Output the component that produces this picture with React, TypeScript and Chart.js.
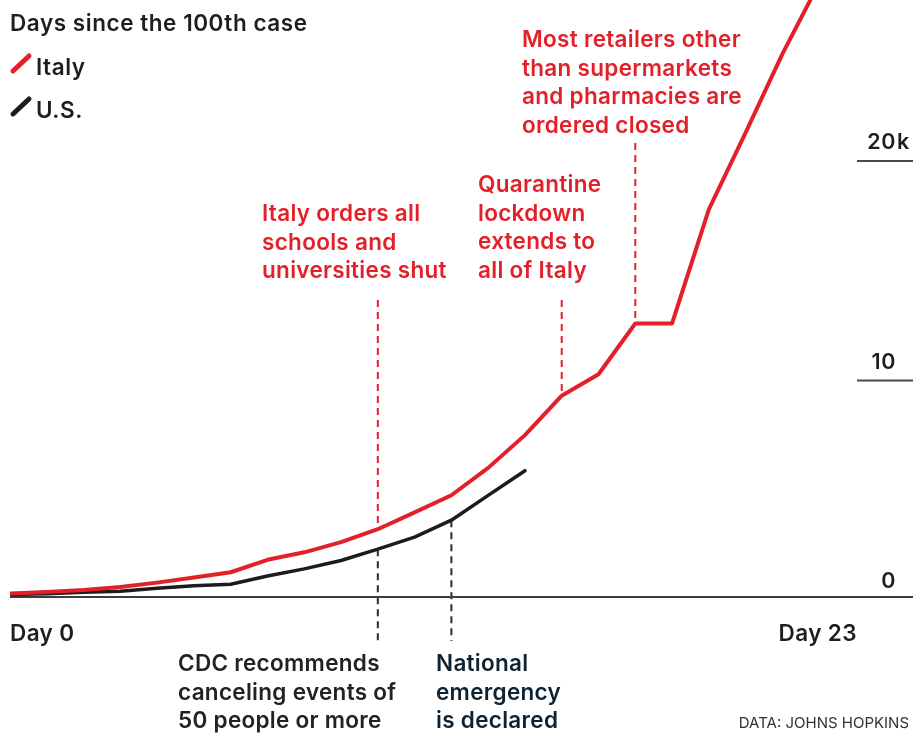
import { useEffect, useRef } from "react";
import { Chart, registerables } from "chart.js";

Chart.register(...registerables);

// Days since each country's 100th confirmed case
const italyDays = [0, 1, 2, 3, 4, 5, 6, 7, 8, 9, 10, 11, 12, 13, 14, 15, 16, 17, 18, 19, 20, 21, 22];
const italyCases = [
  155, 229, 322, 453, 655, 888, 1128, 1694, 2036, 2502, 3089, 3858, 4636, 5883, 7375, 9172, 10149,
  12462, 12462, 17660, 21157, 24747, 27980,
];

const usDays = [0, 1, 2, 3, 4, 5, 6, 7, 8, 9, 10, 11, 12, 13, 14];
const usCases = [118, 149, 217, 262, 402, 518, 583, 959, 1281, 1663, 2179, 2727, 3499, 4632, 5754];

// Right-hand value ticks (number part right-aligned, unit hangs to the right)
const yTickValues = [0, 10000, 20000];
const yTickNumbers = ["0", "10", "20"];
const yTickUnits = ["", "", "k"];

// Day markers under the baseline
const xLabelDays = [0, 23];
const xLabelTexts = ["Day 0", "Day 23"];

// Events in Italy (noted above the red line)
const italyEventDays = [10, 15, 17];
const italyEventTexts = [
  ["Italy orders all", "schools and", "universities shut"],
  ["Quarantine", "lockdown", "extends to", "all of Italy"],
  ["Most retailers other", "than supermarkets", "and pharmacies are", "ordered closed"],
];

// Events in the U.S. (noted below the baseline)
const usEventDays = [10, 12];
const usEventTexts = [
  ["CDC recommends", "canceling events of", "50 people or more"],
  ["National", "emergency", "is declared"],
];

const RED = "#e3202a";
const BLACK = "#1c1c1c";
const FONT = "Inter, 'Liberation Sans', sans-serif";

// Placement of the event notes
const italyNoteLayout = [
  { x: 262, baseline: 221, dashTop: 300 },
  { x: 478, baseline: 192, dashTop: 300 },
  { x: 522, baseline: 47, dashTop: 143 },
];
const usNoteLayout = [
  { x: 178, baseline: 671, dashBottom: 641, color: "#222222" },
  { x: 436, baseline: 671, dashBottom: 641, color: "#0e2232" },
];
const NOTE_LINE_HEIGHT = 28.6;

const overlay = {
  id: "overlay",
  beforeDatasetsDraw(chart: any) {
    const { ctx, scales } = chart;
    const xs = scales.x;
    const ys = scales.y;
    const area = chart.chartArea;
    ctx.save();
    ctx.lineWidth = 2;
    ctx.setLineDash([7, 5]);
    // Italy event markers: from the note down to the red line
    italyEventDays.forEach((d, i) => {
      const x = xs.getPixelForValue(d);
      const yEnd = ys.getPixelForValue(italyCases[italyDays.indexOf(d)]);
      ctx.strokeStyle = RED;
      ctx.beginPath();
      ctx.moveTo(x, italyNoteLayout[i].dashTop);
      ctx.lineTo(x, yEnd);
      ctx.stroke();
    });
    // U.S. event markers: from the black line down to the note
    usEventDays.forEach((d, i) => {
      const x = xs.getPixelForValue(d);
      const yStart = ys.getPixelForValue(usCases[usDays.indexOf(d)]);
      ctx.strokeStyle = "#2a2a2a";
      ctx.beginPath();
      ctx.moveTo(x, yStart);
      ctx.lineTo(x, usNoteLayout[i].dashBottom);
      ctx.stroke();
    });
    ctx.setLineDash([]);

    // Zero baseline
    ctx.strokeStyle = "#3d3d3d";
    ctx.lineWidth = 2;
    const y0 = ys.getPixelForValue(0);
    ctx.beginPath();
    ctx.moveTo(area.left, y0);
    ctx.lineTo(area.right, y0);
    ctx.stroke();

    // Value ticks: short underline with the label sitting on it
    ctx.fillStyle = "#1e1e1e";
    ctx.font = `600 21.5px ${FONT}`;
    ctx.letterSpacing = "0.6px";
    ctx.textBaseline = "alphabetic";
    yTickValues.forEach((v, i) => {
      const y = ys.getPixelForValue(v);
      if (v !== 0) {
        ctx.strokeStyle = "#4a4a4a";
        ctx.beginPath();
        ctx.moveTo(857, y + 3);
        ctx.lineTo(area.right, y + 3);
        ctx.stroke();
      }
      ctx.textAlign = "right";
      ctx.fillText(yTickNumbers[i], 896, y - 9);
      if (yTickUnits[i]) {
        ctx.textAlign = "left";
        ctx.fillText(yTickUnits[i], 897, y - 9);
      }
    });
    ctx.restore();
  },
  afterDraw(chart: any) {
    const { ctx, scales } = chart;
    const xs = scales.x;
    ctx.save();
    ctx.textBaseline = "alphabetic";

    // Title and legend
    ctx.fillStyle = "#1e1e1e";
    ctx.textAlign = "left";
    ctx.font = `600 22.5px ${FONT}`;
    ctx.letterSpacing = "0.55px";
    ctx.fillText("Days since the 100th case", 10, 31);
    ctx.fillText("Italy", 36, 75);
    ctx.fillText("U.S.", 36, 118);
    ctx.lineCap = "round";
    ctx.lineWidth = 5;
    ctx.strokeStyle = RED;
    ctx.beginPath();
    ctx.moveTo(13, 71);
    ctx.lineTo(29, 56);
    ctx.stroke();
    ctx.strokeStyle = BLACK;
    ctx.beginPath();
    ctx.moveTo(13, 114);
    ctx.lineTo(29, 99);
    ctx.stroke();

    // Day labels
    ctx.font = `600 22.5px ${FONT}`;
    ctx.letterSpacing = "0.4px";
    ctx.fillStyle = "#1e1e1e";
    xLabelDays.forEach((d, i) => {
      ctx.textAlign = i === 0 ? "left" : "right";
      ctx.fillText(xLabelTexts[i], xs.getPixelForValue(d) + (i === 0 ? 0 : 1), 641);
    });

    // Event notes
    ctx.textAlign = "left";
    ctx.font = `600 22.5px ${FONT}`;
    ctx.letterSpacing = "0.3px";
    ctx.fillStyle = RED;
    italyEventTexts.forEach((lines, i) => {
      const l = italyNoteLayout[i];
      lines.forEach((t, j) => ctx.fillText(t, l.x, l.baseline + j * NOTE_LINE_HEIGHT));
    });
    usEventTexts.forEach((lines, i) => {
      const l = usNoteLayout[i];
      ctx.fillStyle = l.color;
      lines.forEach((t, j) => ctx.fillText(t, l.x, l.baseline + j * NOTE_LINE_HEIGHT));
    });

    // Source
    ctx.font = `400 15px ${FONT}`;
    ctx.letterSpacing = "0px";
    ctx.fillStyle = "#333333";
    ctx.textAlign = "right";
    ctx.fillText("DATA: JOHNS HOPKINS", 909, 728);
    ctx.restore();
  },
};

export default function App() {
  const canvasRef = useRef<HTMLCanvasElement | null>(null);

  useEffect(() => {
    const canvas = canvasRef.current;
    if (!canvas) return;
    const chart = new Chart(canvas, {
      type: "line",
      data: {
        datasets: [
          {
            label: "Italy",
            data: italyDays.map((d, i) => ({ x: d, y: italyCases[i] })),
            borderColor: RED,
            borderWidth: 4,
            pointRadius: 0,
            tension: 0,
            borderJoinStyle: "round",
            borderCapStyle: "round",
            fill: false,
          },
          {
            label: "U.S.",
            data: usDays.map((d, i) => ({ x: d, y: usCases[i] })),
            borderColor: BLACK,
            borderWidth: 3.5,
            pointRadius: 0,
            tension: 0,
            borderJoinStyle: "round",
            borderCapStyle: "round",
            fill: false,
          },
        ],
      },
      options: {
        responsive: false,
        animation: false,
        devicePixelRatio: 1,
        layout: { padding: { left: 10, right: 0, top: 0, bottom: 136 } },
        scales: {
          x: { type: "linear", min: 0, max: 24.55, display: false },
          y: { type: "linear", min: 0, max: 27200, display: false },
        },
        plugins: {
          legend: { display: false },
          tooltip: { enabled: false },
        },
      },
      plugins: [overlay],
    });
    return () => chart.destroy();
  }, []);

  return (
    <div style={{ position: "absolute", left: 0, top: 0, width: 913, height: 733, background: "#ffffff" }}>
      <canvas ref={canvasRef} width={913} height={733} style={{ display: "block" }} />
    </div>
  );
}
